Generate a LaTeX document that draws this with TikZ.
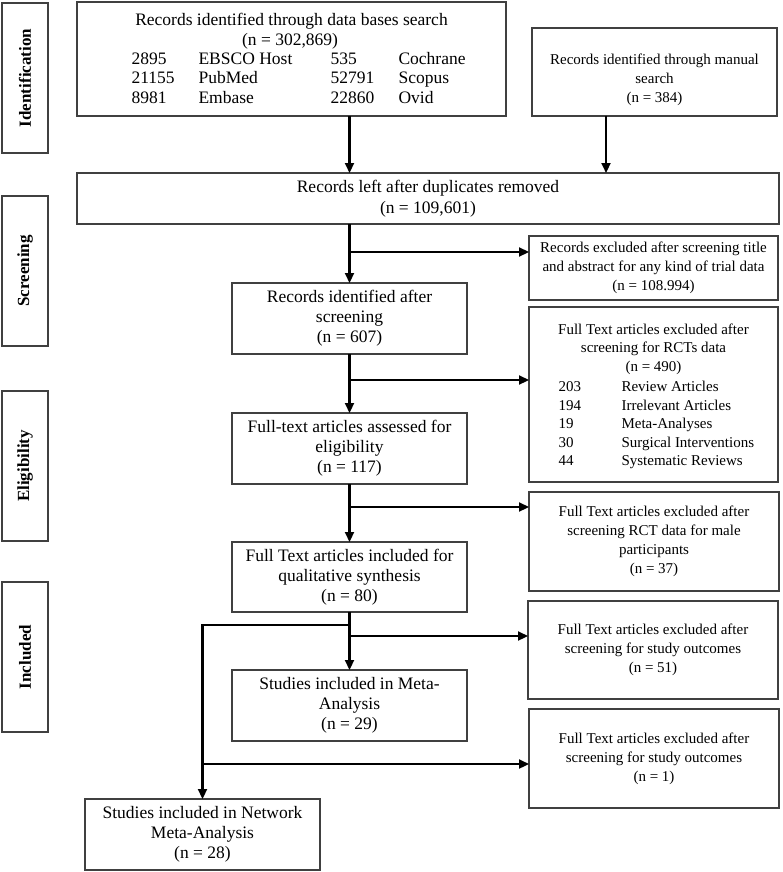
\documentclass[tikz,border=0pt]{standalone}
\usepackage{fontspec}
\setmainfont{Liberation Serif}
\usetikzlibrary{arrows.meta}
\newcommand\fbig{\fontsize{17.5}{20}\selectfont}
\newcommand\fsml{\fontsize{15}{19}\selectfont}
\newcommand\flab{\fontsize{17}{20}\selectfont\bfseries}
\begin{document}
\begin{tikzpicture}[x=1pt,y=-1pt,
  bx/.style={draw=black!75, line width=1.3pt, inner sep=0pt, outer sep=0pt, align=center},
  lab/.style={bx, minimum width=46pt, minimum height=150pt},
  arr/.style={draw=black, line width=2.2pt, -{Triangle[length=10pt,width=9pt]}},
  conn/.style={draw=black, line width=2.2pt}]
\useasboundingbox[fill=white] (0,0) rectangle (782,872);

% stage labels
\node[lab] (id) at (25,78) {};
\node[rotate=90,font=\flab] (idt) at (id.center) {Identification};
\node[lab] (sc) at (25,271) {};
\node[rotate=90,font=\flab] (sct) at (sc.center) {Screening};
\node[lab] (el) at (25,466) {};
\node[rotate=90,font=\flab] (elt) at (el.center) {Eligibility};
\node[lab] (in) at (25,657) {};
\node[rotate=90,font=\flab] (int) at (in.center) {Included};

% database box
\node[bx, minimum width=429pt, minimum height=114pt] (b1) at (291.5,59) {};
\node[font=\fbig, anchor=base] (b1a) at (291.5,26) {Records identified through data bases search};
\node[font=\fbig, anchor=base] (b1b) at (290,46) {(n = 302,869)};
\node[font=\fbig, anchor=base west] (r1a) at (128,65) {2895};
\node[font=\fbig, anchor=base west] (r1b) at (195,65) {EBSCO Host};
\node[font=\fbig, anchor=base west] (r1c) at (327,65) {535};
\node[font=\fbig, anchor=base west] (r1d) at (395,65) {Cochrane};
\node[font=\fbig, anchor=base west] (r2a) at (128,84) {21155};
\node[font=\fbig, anchor=base west] (r2b) at (195,84) {PubMed};
\node[font=\fbig, anchor=base west] (r2c) at (327,84) {52791};
\node[font=\fbig, anchor=base west] (r2d) at (395,84) {Scopus};
\node[font=\fbig, anchor=base west] (r3a) at (128,103) {8981};
\node[font=\fbig, anchor=base west] (r3b) at (195,103) {Embase};
\node[font=\fbig, anchor=base west] (r3c) at (327,103) {22860};
\node[font=\fbig, anchor=base west] (r3d) at (395,103) {Ovid};

% manual search
\node[bx, minimum width=245pt, minimum height=88pt] (man) at (654.5,72) {};
\node[font=\fsml, align=center] (mant) at (654.5,80) {Records identified through manual\\search\\(n = 384)};

% duplicates removed
\node[bx, minimum width=702pt, minimum height=51pt, font=\fbig] (b2) at (428,198.5) {Records left after duplicates removed\\[1pt](n = 109,601)};

% main column
\node[bx, minimum width=235pt, minimum height=71pt, font=\fbig] (b3) at (349.5,318.5) {Records identified after\\screening\\(n = 607)};
\node[bx, minimum width=235pt, minimum height=71pt, font=\fbig] (b4) at (349.5,448.5) {Full-text articles assessed for\\eligibility\\(n = 117)};
\node[bx, minimum width=235pt, minimum height=70pt, font=\fbig] (b5) at (349.5,577) {Full Text articles included for\\qualitative synthesis\\(n = 80)};
\node[bx, minimum width=235pt, minimum height=71pt, font=\fbig] (b6) at (349.5,705.5) {Studies included in Meta-\\Analysis\\(n = 29)};
\node[bx, minimum width=235pt, minimum height=71pt, font=\fbig] (b7) at (202.5,834.5) {Studies included in Network\\Meta-Analysis\\(n = 28)};

% exclusion boxes
\node[bx, minimum width=249pt, minimum height=64pt, font=\fsml] (e1) at (653.5,268) {Records excluded after screening title\\and abstract for any kind of trial data\\(n = 108.994)};
\node[bx, minimum width=249pt, minimum height=175pt] (e2) at (653.5,394.5) {};
\node[font=\fontsize{15}{18.5}\selectfont, align=center] (e2t) at (653.5,349) {Full Text articles excluded after\\screening for RCTs data\\(n = 490)};
\node[font=\fsml, anchor=base west] (l1a) at (555,391) {203};
\node[font=\fsml, anchor=base west] (l1b) at (618,391) {Review Articles};
\node[font=\fsml, anchor=base west] (l2a) at (555,410) {194};
\node[font=\fsml, anchor=base west] (l2b) at (618,410) {Irrelevant Articles};
\node[font=\fsml, anchor=base west] (l3a) at (555,428) {19};
\node[font=\fsml, anchor=base west] (l3b) at (618,428) {Meta-Analyses};
\node[font=\fsml, anchor=base west] (l4a) at (555,447) {30};
\node[font=\fsml, anchor=base west] (l4b) at (618,447) {Surgical Interventions};
\node[font=\fsml, anchor=base west] (l5a) at (555,465) {44};
\node[font=\fsml, anchor=base west] (l5b) at (618,465) {Systematic Reviews};
\node[bx, minimum width=250pt, minimum height=99pt, font=\fsml] (e3) at (654,541.5) {Full Text articles excluded after\\screening RCT data for male\\participants\\(n = 37)};
\node[bx, minimum width=250pt, minimum height=98pt, font=\fsml] (e4) at (653,650) {Full Text articles excluded after\\screening for study outcomes\\(n = 51)};
\node[bx, minimum width=250pt, minimum height=99pt, font=\fsml] (e5) at (654,758.5) {Full Text articles excluded after\\screening for study outcomes\\(n = 1)};

% connectors
\coordinate (mx) at (606,0);
\draw[arr] (b1.south -| b3.north) -- (b2.north -| b3.north);
\draw[arr] (man.south -| mx) -- (b2.north -| mx);
\draw[arr] (b2.south -| b3.north) -- (b3.north);
\coordinate (j1) at (349.5,252);
\draw[arr] (j1) -- (j1 -| e1.west);
\draw[arr] (b3.south) -- (b4.north);
\coordinate (j2) at (349.5,380);
\draw[arr] (j2) -- (j2 -| e2.west);
\draw[arr] (b4.south) -- (b5.north);
\coordinate (j3) at (349.5,507);
\draw[arr] (j3) -- (j3 -| e3.west);
\draw[arr] (b5.south) -- (b6.north);
\coordinate (j4) at (349.5,636);
\draw[arr] (j4) -- (j4 -| e4.west);
\coordinate (k1) at (349.5,625);
\draw[arr] (k1) -| (b7.north);
\coordinate (j5) at (202.5,764);
\draw[arr] (j5) -- (j5 -| e5.west);
\end{tikzpicture}
\end{document}
